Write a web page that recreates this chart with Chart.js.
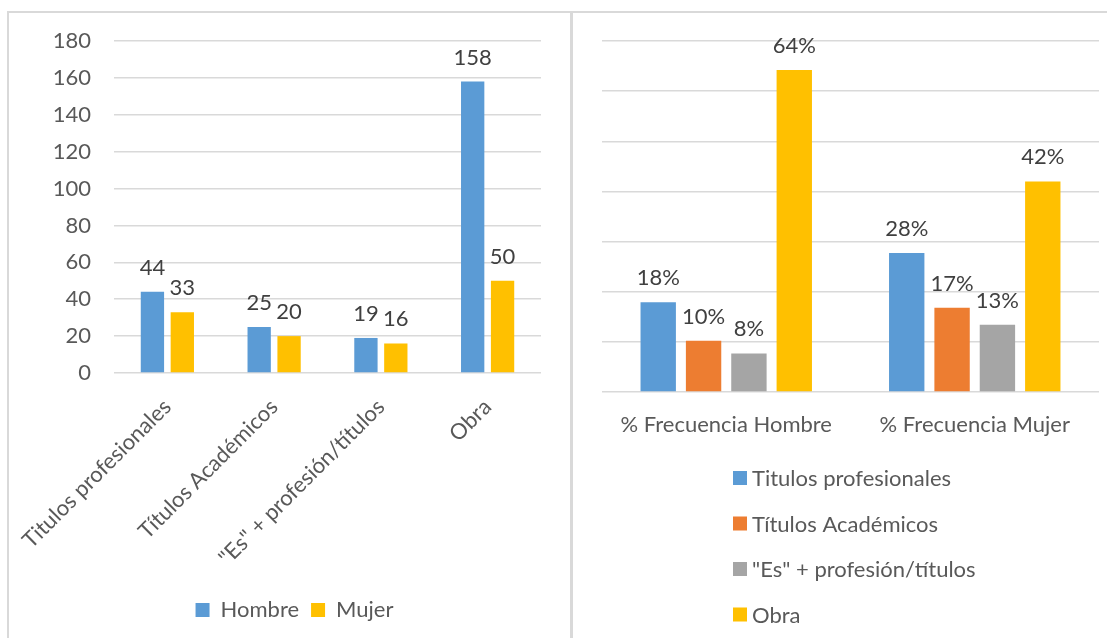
<!DOCTYPE html>
<html>
<head>
<meta charset="utf-8">
<script src="https://cdn.jsdelivr.net/npm/chart.js@4.4.0/dist/chart.umd.min.js"></script>
<style>
  body { margin: 0; background: #fff; }
  #wrap { position: relative; width: 1116px; height: 638px; overflow: hidden; }
  #leftBox { position: absolute; left: 0; top: 0; }
  #rightBox { position: absolute; left: 572px; top: 0; }
  .rule { position: absolute; background: #d9d9d9; }
</style>
</head>
<body>
<div id="wrap">
  <div id="leftBox"><canvas id="countChart" width="572" height="638"></canvas></div>
  <div id="rightBox"><canvas id="pctChart" width="544" height="638"></canvas></div>
  <div class="rule" style="left:8px; top:11px; width:1099px; height:2px;"></div>
  <div class="rule" style="left:7px; top:11px; width:2px; height:627px;"></div>
  <div class="rule" style="left:570px; top:11px; width:3px; height:627px;"></div>
</div>
<script>
// left chart: counts
const categories = ['Titulos profesionales', 'Títulos Académicos', '"Es" + profesión/títulos', 'Obra'];
const hombre = [44, 25, 19, 158];
const mujer = [33, 20, 16, 50];

// right chart: % per group
const groups = ['% Frecuencia Hombre', '% Frecuencia Mujer'];
const pctTitulosProf = [17.9, 27.7];
const pctTitulosAcad = [10.2, 16.8];
const pctEsProfesion = [7.7, 13.4];
const pctObra = [64.2, 42.0];

const BLUE = '#5B9BD5';
const ORANGE = '#ED7D31';
const GRAY = '#A5A5A5';
const GOLD = '#FFC000';
const TEXT = '#595959';
const GRID = '#d9d9d9';
const FONT_FAMILY = 'Lato';
const FONT_SIZE = 22;

Chart.defaults.font.family = FONT_FAMILY;
Chart.defaults.font.size = FONT_SIZE;
Chart.defaults.color = TEXT;

// value labels above each bar
const barLabels = {
  id: 'barLabels',
  afterDatasetsDraw(chart, args, opts) {
    const ctx = chart.ctx;
    ctx.save();
    ctx.font = FONT_SIZE + 'px ' + FONT_FAMILY;
    ctx.fillStyle = '#404040';
    ctx.textAlign = 'center';
    ctx.textBaseline = 'alphabetic';
    chart.data.datasets.forEach((ds, i) => {
      chart.getDatasetMeta(i).data.forEach((bar, j) => {
        ctx.fillText(opts.format(ds.data[j]), bar.x, bar.y - 17);
      });
    });
    ctx.restore();
  }
};

// one-item-per-row legend under the right chart
const listLegend = {
  id: 'listLegend',
  afterDraw(chart, args, opts) {
    const ctx = chart.ctx;
    ctx.save();
    ctx.font = FONT_SIZE + 'px ' + FONT_FAMILY;
    ctx.textAlign = 'left';
    ctx.textBaseline = 'middle';
    chart.data.datasets.forEach((ds, i) => {
      const y = opts.top + i * opts.rowGap;
      ctx.fillStyle = ds.backgroundColor;
      ctx.fillRect(opts.left, y - 7, 14, 14);
      ctx.fillStyle = TEXT;
      ctx.fillText(ds.label, opts.left + 19, y + 1);
    });
    ctx.restore();
  }
};

new Chart(document.getElementById('countChart'), {
  type: 'bar',
  data: {
    labels: categories,
    datasets: [
      { label: 'Hombre', data: hombre, backgroundColor: BLUE },
      { label: 'Mujer', data: mujer, backgroundColor: GOLD }
    ]
  },
  options: {
    responsive: false,
    animation: false,
    barPercentage: 0.78,
    categoryPercentage: 0.56,
    layout: { padding: { top: 41, right: 31, left: 48, bottom: 7 } },
    scales: {
      x: {
        grid: { display: false },
        border: { display: false },
        ticks: { autoSkip: false, minRotation: 45, maxRotation: 45, padding: 13, color: TEXT },
        afterFit: (scale) => {
          scale.height = 214;
          scale.paddingLeft = 0;
          scale.paddingRight = 0;
        }
      },
      y: {
        min: 0,
        max: 180,
        ticks: { stepSize: 20, padding: 23, color: TEXT },
        grid: { color: GRID, lineWidth: 1.5, drawTicks: false },
        border: { display: false },
        afterFit: (scale) => { scale.width = 66; }
      }
    },
    plugins: {
      legend: {
        position: 'bottom',
        labels: { boxWidth: 14, boxHeight: 14, padding: 12, color: TEXT }
      },
      tooltip: { enabled: false },
      barLabels: { format: (v) => String(v) }
    }
  },
  plugins: [barLabels]
});

new Chart(document.getElementById('pctChart'), {
  type: 'bar',
  data: {
    labels: groups,
    datasets: [
      { label: 'Titulos profesionales', data: pctTitulosProf, backgroundColor: BLUE },
      { label: 'Títulos Académicos', data: pctTitulosAcad, backgroundColor: ORANGE },
      { label: '"Es" + profesión/títulos', data: pctEsProfesion, backgroundColor: GRAY },
      { label: 'Obra', data: pctObra, backgroundColor: GOLD }
    ]
  },
  options: {
    responsive: false,
    animation: false,
    barPercentage: 0.78,
    categoryPercentage: 0.73,
    layout: { padding: { top: 41, right: 17, left: 30, bottom: 186 } },
    scales: {
      x: {
        grid: { display: false },
        border: { display: false },
        ticks: { padding: 12, color: TEXT, maxRotation: 0 },
        afterFit: (scale) => { scale.height = 60; }
      },
      y: {
        min: 0,
        max: 70,
        ticks: { display: false, stepSize: 10 },
        grid: { color: GRID, lineWidth: 1.5, drawTicks: false },
        border: { display: false },
        afterFit: (scale) => { scale.width = 0; }
      }
    },
    plugins: {
      legend: { display: false },
      tooltip: { enabled: false },
      barLabels: { format: (v) => v.toFixed(0) + '%' },
      listLegend: { left: 161, top: 478, rowGap: 45.5 }
    }
  },
  plugins: [barLabels, listLegend]
});
</script>
</body>
</html>
